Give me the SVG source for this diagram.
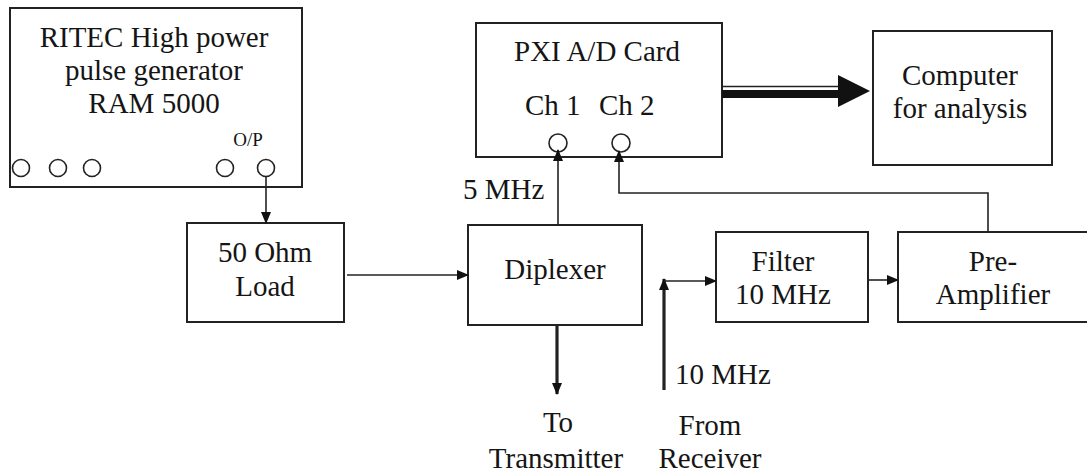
<svg xmlns="http://www.w3.org/2000/svg" width="1087" height="474" viewBox="0 0 1087 474" font-family="'Liberation Serif', 'Times New Roman', serif">
<defs>
<style>
.box{fill:#fff;stroke:#222;stroke-width:2}
.port{fill:none;stroke:#222;stroke-width:1.6}
.t{font-family:'Liberation Serif','Times New Roman',serif;font-size:29px;fill:#151515}
.lbl{text-anchor:middle}
.sm{font-size:19px}
.ln{fill:none;stroke:#222;stroke-width:1.6}
.thick{fill:none;stroke:#222;stroke-width:3.2}
</style>
<marker id="ah" markerWidth="12" markerHeight="10" refX="11" refY="5" orient="auto" markerUnits="userSpaceOnUse">
<path d="M0,0 L12,5 L0,10 Z" fill="#111"/>
</marker>
</defs>
<rect width="1087" height="474" fill="#fff"/>

<g id="ritec">
<rect class="box" x="10" y="8" width="292" height="179"/>
<text class="t lbl" x="154" y="47">RITEC High power</text>
<text class="t lbl" x="154" y="80">pulse generator</text>
<text class="t lbl" x="154" y="113">RAM 5000</text>
<text class="t lbl sm" x="248" y="146">O/P</text>
<circle class="port" cx="21" cy="168" r="8.5"/>
<circle class="port" cx="58" cy="168" r="8.5"/>
<circle class="port" cx="92" cy="168" r="8.5"/>
<circle class="port" cx="225" cy="168" r="8.5"/>
<circle class="port" cx="266" cy="168" r="8.5"/>
</g>

<g id="load">
<rect class="box" x="187" y="223" width="157" height="99"/>
<text class="t lbl" x="265" y="262">50 Ohm</text>
<text class="t lbl" x="265" y="296">Load</text>
</g>

<g id="diplexer">
<rect class="box" x="468" y="225" width="174" height="100"/>
<text class="t lbl" x="555" y="279">Diplexer</text>
</g>

<g id="pxi">
<rect class="box" x="476" y="23" width="246" height="134"/>
<text class="t lbl" x="597" y="61">PXI A/D Card</text>
<text class="t" x="525" y="115">Ch 1</text>
<text class="t" x="599" y="115">Ch 2</text>
<circle class="port" cx="558" cy="143" r="9"/>
<circle class="port" cx="621" cy="143" r="9"/>
</g>

<g id="computer">
<rect class="box" x="873" y="31" width="179" height="134"/>
<text class="t lbl" x="960" y="85">Computer</text>
<text class="t lbl" x="960" y="118">for analysis</text>
</g>

<g id="filter">
<rect class="box" x="716" y="232" width="152" height="90"/>
<text class="t lbl" x="783" y="271">Filter</text>
<text class="t lbl" x="783" y="304">10 MHz</text>
</g>

<g id="preamp">
<rect class="box" x="898" y="232" width="200" height="90"/>
<text class="t lbl" x="993" y="271">Pre-</text>
<text class="t lbl" x="993" y="304">Amplifier</text>
</g>

<g id="labels">
<text class="t" x="463" y="199">5 MHz</text>
<text class="t" x="675" y="384">10 MHz</text>
<text class="t lbl" x="558" y="432">To</text>
<text class="t lbl" x="556" y="468">Transmitter</text>
<text class="t lbl" x="710" y="435">From</text>
<text class="t lbl" x="710" y="468">Receiver</text>
</g>

<g id="connectors">
<line class="ln" x1="266" y1="176.5" x2="266" y2="223" marker-end="url(#ah)"/>
<line class="ln" x1="347" y1="275" x2="468" y2="275" marker-end="url(#ah)"/>
<line class="ln" x1="558" y1="225" x2="558" y2="150" marker-end="url(#ah)"/>
<polyline class="ln" points="988,232 988,193 619,193 619,151" marker-end="url(#ah)"/>
<line class="thick" x1="557" y1="326" x2="557" y2="394" marker-end="url(#ah)"/>
<line class="thick" x1="664" y1="390" x2="664" y2="279" marker-end="url(#ah)"/>
<line class="ln" x1="664" y1="281" x2="716" y2="281" marker-end="url(#ah)"/>
<line class="ln" x1="868" y1="280" x2="898" y2="280" marker-end="url(#ah)"/>
<line x1="722" y1="86.5" x2="840" y2="86.5" stroke="#222" stroke-width="1.5"/>
<rect x="722" y="90" width="118" height="8" fill="#111"/>
<path d="M838,75 L870,91 L838,107 Z" fill="#111"/>
</g>
</svg>
